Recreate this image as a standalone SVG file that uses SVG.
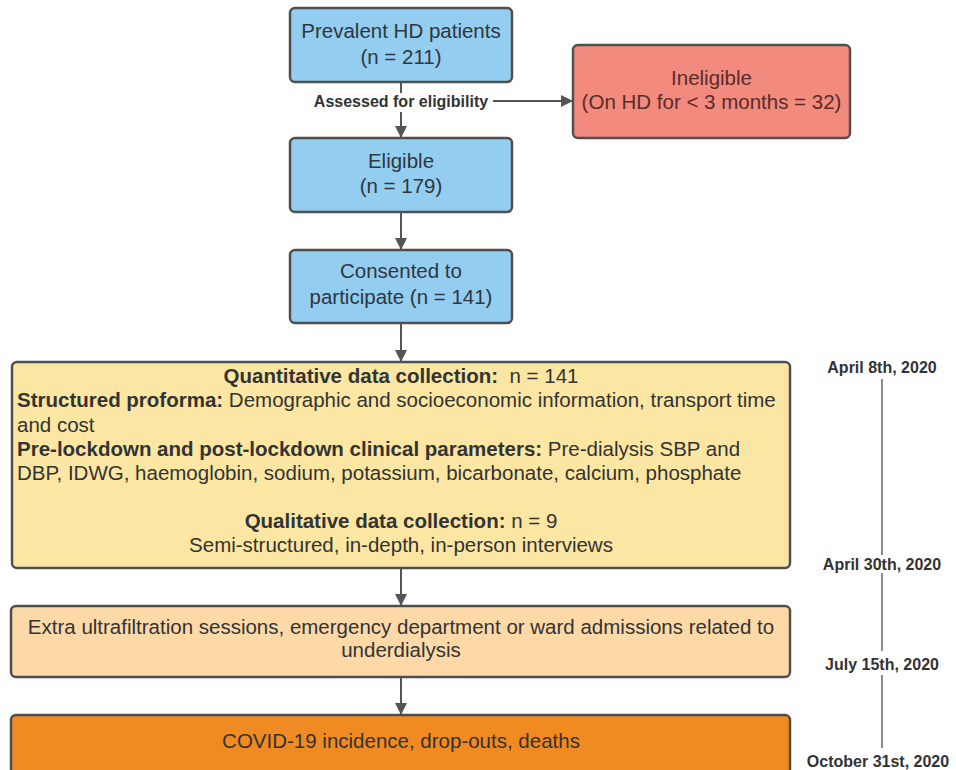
<svg xmlns="http://www.w3.org/2000/svg" width="956" height="770" viewBox="0 0 956 770">
<defs>
<style>
text{font-family:"Liberation Sans",Arial,sans-serif;}
.box{stroke:#4f4f4f;stroke-width:2.5;}
.blue{fill:#93cdef;}
.red{fill:#f38a7e;}
.yel{fill:#fbe6a3;}
.lor{fill:#fdd9a8;}
.ora{fill:#f08a22;}
.t{font-size:20.5px;fill:#2f3640;text-anchor:middle;}
.tr{font-size:20.5px;fill:#5a2c28;text-anchor:middle;}
.ty{font-size:20.5px;fill:#333;}
.b{font-weight:bold;}
.lbl{font-size:16px;font-weight:bold;fill:#333;text-anchor:middle;}
.date{font-size:16px;font-weight:bold;fill:#333;text-anchor:middle;}
.ln{stroke:#555;stroke-width:2;fill:none;}
.tl{stroke:#666;stroke-width:1.5;fill:none;}
</style>
<marker id="ah" markerWidth="12" markerHeight="12" refX="11" refY="6" orient="auto" markerUnits="userSpaceOnUse">
<path d="M0,0 L12,6 L0,12 Z" fill="#555"/>
</marker>
</defs>
<rect width="956" height="770" fill="#ffffff"/>

<g id="connectors">
<line class="ln" x1="401" y1="82" x2="401" y2="93"/>
<line class="ln" x1="401" y1="112" x2="401" y2="137" marker-end="url(#ah)"/>
<line class="ln" x1="493" y1="101" x2="572" y2="101" marker-end="url(#ah)"/>
<line class="ln" x1="401" y1="212" x2="401" y2="249" marker-end="url(#ah)"/>
<line class="ln" x1="401" y1="323" x2="401" y2="361" marker-end="url(#ah)"/>
<line class="ln" x1="401" y1="568" x2="401" y2="605" marker-end="url(#ah)"/>
<line class="ln" x1="401" y1="677" x2="401" y2="714" marker-end="url(#ah)"/>
<text class="lbl" x="401" y="107">Assessed for eligibility</text>
</g>

<g id="prevalent">
<rect class="box blue" x="290" y="8" width="222" height="74" rx="5"/>
<text class="t" x="401" y="38">Prevalent HD patients</text>
<text class="t" x="401" y="64">(n = 211)</text>
</g>

<g id="ineligible">
<rect class="box red" x="573" y="45" width="277" height="93" rx="5"/>
<text class="tr" x="711.5" y="85">Ineligible</text>
<text class="tr" x="711.5" y="109">(On HD for &lt; 3 months = 32)</text>
</g>

<g id="eligible">
<rect class="box blue" x="290" y="138" width="222" height="74" rx="5"/>
<text class="t" x="401" y="168">Eligible</text>
<text class="t" x="401" y="193">(n = 179)</text>
</g>

<g id="consented">
<rect class="box blue" x="290" y="250" width="222" height="73" rx="5"/>
<text class="t" x="401" y="278">Consented to</text>
<text class="t" x="401" y="304">participate (n = 141)</text>
</g>

<g id="data-collection">
<rect class="box yel" x="12" y="362" width="778" height="206" rx="5"/>
<text class="ty" x="401" y="383" text-anchor="middle"><tspan class="b">Quantitative data collection:</tspan>&#160; n = 141</text>
<text class="ty" x="17" y="407"><tspan class="b">Structured proforma:</tspan> Demographic and socioeconomic information, transport time</text>
<text class="ty" x="17" y="432">and cost</text>
<text class="ty" x="17" y="456"><tspan class="b">Pre-lockdown and post-lockdown clinical parameters:</tspan> Pre-dialysis SBP and</text>
<text class="ty" x="17" y="480">DBP, IDWG, haemoglobin, sodium, potassium, bicarbonate, calcium, phosphate</text>
<text class="ty" x="401" y="528" text-anchor="middle"><tspan class="b">Qualitative data collection:</tspan> n = 9</text>
<text class="ty" x="401" y="552" text-anchor="middle">Semi-structured, in-depth, in-person interviews</text>
</g>

<g id="extra-uf">
<rect class="box lor" x="11" y="606" width="779" height="71" rx="5"/>
<text class="ty" x="401" y="634" text-anchor="middle">Extra ultrafiltration sessions, emergency department or ward admissions related to</text>
<text class="ty" x="401" y="657" text-anchor="middle">underdialysis</text>
</g>

<g id="covid">
<rect class="box ora" x="11" y="715" width="779" height="70" rx="5"/>
<text class="ty" x="401" y="748" text-anchor="middle">COVID-19 incidence, drop-outs, deaths</text>
</g>

<g id="timeline">
<line class="tl" x1="882" y1="379" x2="882" y2="555"/>
<line class="tl" x1="882" y1="573" x2="882" y2="651"/>
<line class="tl" x1="882" y1="675" x2="882" y2="748"/>
<text class="date" x="882" y="373">April 8th, 2020</text>
<text class="date" x="882" y="570">April 30th, 2020</text>
<text class="date" x="882" y="670">July 15th, 2020</text>
<text class="date" x="878" y="767">October 31st, 2020</text>
</g>
</svg>
